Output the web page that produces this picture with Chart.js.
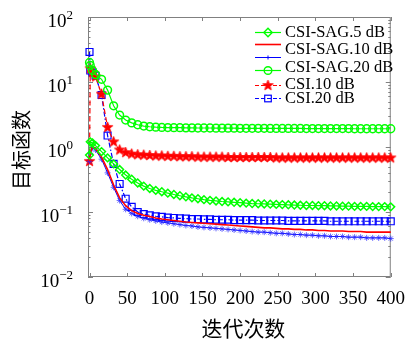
<!DOCTYPE html>
<html><head><meta charset="utf-8">
<script src="https://cdn.jsdelivr.net/npm/chart.js@4/dist/chart.umd.min.js"></script>
<style>html,body{margin:0;padding:0;background:#fff;}#wrap{width:416px;height:343px;position:relative;}</style>
</head><body><div id="wrap"><canvas id="c" width="416" height="343"></canvas></div>
<script>
// ---------------- data ----------------
const iterations = [0, 1, 4,
  8, 16, 24, 32, 40, 48, 56, 64, 72, 80,
  88, 96, 104, 112, 120, 128, 136, 144, 152, 160,
  168, 176, 184, 192, 200, 208, 216, 224, 232, 240,
  248, 256, 264, 272, 280, 288, 296, 304, 312, 320,
  328, 336, 344, 352, 360, 368, 376, 384, 392, 400];

const csiSag5 = [0.75, 1.2, 1.15,
  1.05, 0.85, 0.68, 0.55, 0.45, 0.37, 0.32, 0.28, 0.25, 0.23,
  0.215, 0.205, 0.195, 0.186, 0.178, 0.171, 0.165, 0.160, 0.155, 0.151,
  0.148, 0.145, 0.143, 0.141, 0.139, 0.137, 0.135, 0.134, 0.133, 0.132,
  0.131, 0.130, 0.129, 0.128, 0.127, 0.126, 0.126, 0.125, 0.125, 0.124,
  0.124, 0.123, 0.123, 0.122, 0.122, 0.122, 0.121, 0.121, 0.121, 0.120];

const csiSag10 = [0.6, 0.8, 1.02,
  0.95, 0.7, 0.45, 0.26, 0.165, 0.125, 0.105, 0.095, 0.089, 0.085,
  0.081, 0.078, 0.076, 0.074, 0.072, 0.070, 0.069, 0.068, 0.067, 0.066,
  0.065, 0.064, 0.063, 0.062, 0.061, 0.060, 0.059, 0.058, 0.057, 0.057,
  0.056, 0.055, 0.055, 0.054, 0.054, 0.053, 0.053, 0.052, 0.052, 0.051,
  0.051, 0.051, 0.050, 0.050, 0.050, 0.049, 0.049, 0.049, 0.049, 0.049];

const csiSag20 = [0.6, 0.8, 0.98,
  0.9, 0.65, 0.4, 0.24, 0.15, 0.11, 0.095, 0.086, 0.080, 0.076,
  0.073, 0.070, 0.068, 0.066, 0.064, 0.062, 0.061, 0.059, 0.058, 0.057,
  0.056, 0.055, 0.054, 0.053, 0.052, 0.051, 0.050, 0.049, 0.049, 0.048,
  0.047, 0.047, 0.046, 0.045, 0.045, 0.044, 0.044, 0.043, 0.043, 0.042,
  0.042, 0.042, 0.041, 0.041, 0.041, 0.040, 0.040, 0.040, 0.040, 0.039];

const csi5 = [20, 18, 15,
  13, 11, 7.5, 4.3, 3.1, 2.6, 2.35, 2.2, 2.1, 2.05,
  2.02, 2.0, 1.99, 1.98, 1.98, 1.97, 1.97, 1.96, 1.96, 1.96,
  1.95, 1.95, 1.95, 1.95, 1.94, 1.94, 1.94, 1.94, 1.94, 1.93,
  1.93, 1.93, 1.93, 1.93, 1.93, 1.92, 1.92, 1.92, 1.92, 1.92,
  1.92, 1.92, 1.92, 1.91, 1.91, 1.91, 1.91, 1.91, 1.91, 1.91];

const csi10 = [0.6, 16, 14,
  12, 6.5, 2.0, 1.2, 0.9, 0.82, 0.78, 0.76, 0.75, 0.74,
  0.73, 0.73, 0.72, 0.72, 0.71, 0.71, 0.71, 0.70, 0.70, 0.70,
  0.70, 0.70, 0.69, 0.69, 0.69, 0.69, 0.69, 0.69, 0.69, 0.69,
  0.68, 0.68, 0.68, 0.68, 0.68, 0.68, 0.68, 0.68, 0.68, 0.68,
  0.68, 0.68, 0.68, 0.68, 0.68, 0.68, 0.68, 0.68, 0.68, 0.68];

const csi20 = [29, 15, 14,
  12.5, 6.3, 1.5, 0.55, 0.27, 0.16, 0.12, 0.10, 0.093, 0.089,
  0.086, 0.084, 0.082, 0.081, 0.080, 0.079, 0.078, 0.078, 0.077, 0.077,
  0.076, 0.076, 0.076, 0.075, 0.075, 0.075, 0.075, 0.074, 0.074, 0.074,
  0.074, 0.074, 0.073, 0.073, 0.073, 0.073, 0.073, 0.073, 0.073, 0.072,
  0.072, 0.072, 0.072, 0.072, 0.072, 0.072, 0.072, 0.072, 0.072, 0.072];

const xTickValues = [0, 50, 100, 150, 200, 250, 300, 350, 400];
const yTickValues = [0.01, 0.1, 1, 10, 100];
const yTickExponents = ['\u22122', '\u22121', '0', '1', '2'];
const legendTexts = ['CSI-SAG.5 dB', 'CSI-SAG.10 dB', 'CSI-SAG.20 dB', 'CSI.10 dB', 'CSI.20 dB'];
const xTitle = '迭代次数';
const yTitle = '目标函数';

// ---------------- styles ----------------
const GREEN = '#00ff00', RED = '#ff0000', BLUE = '#0000ff';
const SERIF = '"Liberation Serif", "Times New Roman", serif';
const CJK = '"Noto Sans CJK SC", sans-serif';

function makeStar(r, color) {
  const c = document.createElement('canvas');
  const s = Math.ceil(2 * r + 2);
  c.width = s; c.height = s;
  const g = c.getContext('2d');
  g.beginPath();
  for (let i = 0; i < 10; i++) {
    const a = -Math.PI / 2 + i * Math.PI / 5;
    const rr = (i % 2) ? r * 0.42 : r;
    g.lineTo(s / 2 + rr * Math.cos(a), s / 2 + rr * Math.sin(a));
  }
  g.closePath();
  g.fillStyle = color; g.fill();
  g.strokeStyle = color; g.lineWidth = 0.8; g.stroke();
  return c;
}
const starImg = makeStar(5.5, RED);

const pts = arr => arr.map((v, i) => ({x: iterations[i], y: v}));

const datasets = [
  {label: 'CSI-SAG 5 dB', data: pts(csiSag5), borderColor: GREEN, borderWidth: 1.2,
   pointStyle: 'rectRot', pointRadius: 3.9, pointBorderColor: GREEN, pointBackgroundColor: 'rgba(0,0,0,0)', pointBorderWidth: 1.5},
  {label: 'CSI-SAG 10 dB', data: pts(csiSag10), borderColor: RED, borderWidth: 1.6, pointRadius: 0},
  {label: 'CSI-SAG 20 dB', data: pts(csiSag20), borderColor: BLUE, borderWidth: 1,
   pointStyle: 'star', pointRadius: 3, pointBorderColor: 'rgba(40,40,255,0.7)', pointBorderWidth: 1},
  {label: 'CSI 5 dB', data: pts(csi5), borderColor: GREEN, borderWidth: 1.2,
   pointStyle: 'circle', pointRadius: 3.9, pointBorderColor: GREEN, pointBackgroundColor: 'rgba(0,0,0,0)', pointBorderWidth: 1.5},
  {label: 'CSI 10 dB', data: pts(csi10), borderColor: RED, borderWidth: 1.2, borderDash: [5, 3],
   pointStyle: starImg, pointRadius: 5},
  {label: 'CSI 20 dB', data: pts(csi20), borderColor: BLUE, borderWidth: 1.2, borderDash: [5, 2, 1.5, 2],
   pointStyle: 'rect', pointRadius: 4.9, pointBorderColor: BLUE, pointBackgroundColor: 'rgba(0,0,0,0)', pointBorderWidth: 1.2}
];
datasets.forEach(d => { d.fill = false; d.tension = 0; d.clip = false; });

function drawMarker(ctx, kind, x, y) {
  ctx.save();
  ctx.setLineDash([]);
  if (kind === 'diamond') {
    ctx.strokeStyle = GREEN; ctx.lineWidth = 1.4;
    ctx.beginPath(); ctx.moveTo(x, y - 4.2); ctx.lineTo(x + 4.2, y); ctx.lineTo(x, y + 4.2); ctx.lineTo(x - 4.2, y); ctx.closePath(); ctx.stroke();
  } else if (kind === 'circle') {
    ctx.strokeStyle = GREEN; ctx.lineWidth = 1.4;
    ctx.beginPath(); ctx.arc(x, y, 3.8, 0, Math.PI * 2); ctx.stroke();
  } else if (kind === 'square') {
    ctx.strokeStyle = BLUE; ctx.lineWidth = 1.2;
    ctx.strokeRect(x - 3.3, y - 3.3, 6.6, 6.6);
  } else if (kind === 'star') {
    ctx.drawImage(starImg, x - starImg.width / 2, y - starImg.height / 2);
  } else if (kind === 'plus') {
    ctx.strokeStyle = BLUE; ctx.lineWidth = 1;
    ctx.beginPath(); ctx.moveTo(x - 2, y); ctx.lineTo(x + 2, y); ctx.moveTo(x, y - 2); ctx.lineTo(x, y + 2); ctx.stroke();
  }
  ctx.restore();
}

const framePlugin = {
  id: 'frame',
  beforeDatasetsDraw(chart) {
    const {ctx, chartArea: a, scales: {x, y}} = chart;
    ctx.save();
    ctx.strokeStyle = '#808080'; ctx.lineWidth = 1;
    ctx.strokeRect(a.left + 0.5, a.top + 0.5, a.right - a.left - 1, a.bottom - a.top - 1);
    ctx.beginPath();
    xTickValues.forEach(v => {
      const px = Math.round(x.getPixelForValue(v)) + 0.5;
      ctx.moveTo(px, a.bottom); ctx.lineTo(px, a.bottom - 4);
      ctx.moveTo(px, a.top); ctx.lineTo(px, a.top + 4);
    });
    for (let k = -2; k <= 1; k++) {
      for (let m = 1; m <= 9; m++) {
        const v = m * Math.pow(10, k);
        const py = Math.round(y.getPixelForValue(v)) + 0.5;
        const len = m === 1 ? 5 : 2.5;
        ctx.moveTo(a.left, py); ctx.lineTo(a.left + len, py);
        ctx.moveTo(a.right, py); ctx.lineTo(a.right - len, py);
      }
    }
    ctx.stroke();
    ctx.restore();
  },
  afterDraw(chart) {
    const {ctx, chartArea: a, scales: {y}} = chart;
    ctx.save();
    ctx.fillStyle = '#000';
    // y tick labels 10^k
    yTickValues.forEach((v, i) => {
      const py = y.getPixelForValue(v);
      ctx.textAlign = 'right'; ctx.textBaseline = 'alphabetic';
      ctx.font = '13px ' + SERIF;
      const ew = ctx.measureText(yTickExponents[i]).width;
      ctx.fillText(yTickExponents[i], 73, py + 2);
      ctx.font = '19px ' + SERIF;
      ctx.fillText('10', 73 - ew, py + 10);
    });
    // axis titles
    ctx.font = '20px ' + CJK;
    ctx.textAlign = 'center'; ctx.textBaseline = 'middle';
    ctx.save();
    ctx.translate(21, 150); ctx.rotate(-Math.PI / 2);
    ctx.fillText(yTitle, 0, 0);
    ctx.restore();
    ctx.font = '21px ' + CJK;
    ctx.fillText(xTitle, (a.left + a.right) / 2 + 4, 328);
    // legend (symbol rows and text rows as in the reference)
    const symRows = [
      {y: 32, color: GREEN, dash: [], mk: 'diamond', w: 1.2},
      {y: 44, color: RED, dash: [], mk: null, w: 1.6},
      {y: 57, color: BLUE, dash: [], mk: 'plus', w: 1},
      {y: 70, color: GREEN, dash: [], mk: 'circle', w: 1.2},
      {y: 85, color: RED, dash: [4, 2], mk: 'star', w: 1.2},
      {y: 98, color: BLUE, dash: [4, 2], mk: 'square', w: 1.2}
    ];
    symRows.forEach(r => {
      ctx.save();
      ctx.strokeStyle = r.color; ctx.lineWidth = r.w; ctx.setLineDash(r.dash);
      ctx.beginPath(); ctx.moveTo(255, r.y + 0.5); ctx.lineTo(281, r.y + 0.5); ctx.stroke();
      ctx.restore();
      if (r.mk) drawMarker(ctx, r.mk, 268, r.y + 0.5);
    });
    const textRows = [33, 50, 68, 85, 99];
    ctx.font = '16.5px ' + SERIF;
    ctx.textAlign = 'left'; ctx.textBaseline = 'middle';
    legendTexts.forEach((t, i) => ctx.fillText(t, 285, textRows[i]));
    ctx.restore();
  }
};

new Chart(document.getElementById('c'), {
  type: 'line',
  data: {datasets},
  options: {
    responsive: false,
    animation: false,
    devicePixelRatio: 1,
    layout: {padding: {left: 0, right: 16, top: 17, bottom: 0}},
    plugins: {legend: {display: false}, tooltip: {enabled: false}},
    scales: {
      x: {
        type: 'linear', min: -2, max: 400,
        grid: {display: false, drawTicks: false},
        border: {display: false},
        afterBuildTicks: s => { s.ticks = xTickValues.map(v => ({value: v})); },
        afterFit: s => { s.height = 66; },
        ticks: {font: {family: SERIF, size: 19}, color: '#000', padding: 11, maxRotation: 0, autoSkip: false,
                callback: v => String(v)}
      },
      y: {
        type: 'logarithmic', min: 0.01, max: 100,
        grid: {display: false, drawTicks: false},
        border: {display: false},
        afterBuildTicks: s => { s.ticks = yTickValues.map(v => ({value: v})); },
        afterFit: s => { s.width = 88; },
        ticks: {display: false}
      }
    }
  },
  plugins: [framePlugin]
});
</script></body></html>
